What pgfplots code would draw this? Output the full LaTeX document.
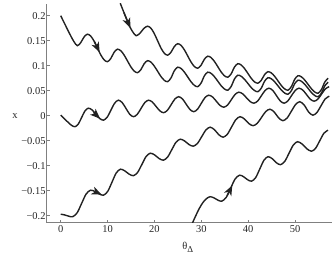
\documentclass[border=0pt]{standalone}
\usepackage{fontspec}
\setmainfont{Liberation Serif}
\usepackage{pgfplots}
\pgfplotsset{compat=1.18}
\usetikzlibrary{arrows.meta}
\definecolor{crv}{HTML}{222222}
\definecolor{axc}{HTML}{808080}
\pgfplotsset{
  trj/.style={crv, line width=1.4bp, smooth, mark=none},
  arr/.style={crv, line width=1.4bp, sharp plot, mark=none, -{Stealth[length=10bp,width=8bp,inset=2.8bp]}},
}
\begin{document}
\begin{tikzpicture}
\begin{axis}[
  scale only axis, width=284.9bp, height=218.7bp,
  xmin=-2.99, xmax=57.8, ymin=-0.214, ymax=0.2234,
  axis lines*=left,
  axis line style={axc, line width=0.6pt},
  tick style={axc, line width=0.5pt},
  tick align=inside, major tick length=3bp,
  xtick={0,10,20,30,40,50},
  xticklabels={0,10,20,30,40,50},
  ytick={-0.2,-0.15,-0.1,-0.05,0,0.05,0.1,0.15,0.2},
  yticklabels={−0.2,−0.15,−0.1,−0.05,0,0.05,0.1,0.15,0.2},
  ticklabel style={font=\fontsize{10.5}{12}\selectfont, text=black!85},
  yticklabel style={inner sep=1pt},
  xticklabel style={inner sep=1pt, yshift=-2bp},
  xlabel={θ\raisebox{-0.6ex}{\fontsize{9}{10}\selectfont Δ}},
  xlabel style={at={(axis description cs:0.495,-0.111)}, anchor=center, font=\fontsize{10.5}{12}\selectfont, text=black!85},
  ylabel={x},
  ylabel style={at={(axis description cs:-0.1115,0.489)}, anchor=center, rotate=-90, font=\fontsize{10.5}{12}\selectfont, text=black!85},
]
% Curve A
\addplot[trj] coordinates {(0,0.200) (0.71,0.1865) (1.42,0.173) (2.12,0.160) (2.83,0.148) (3.54,0.140)
 (4.25,0.1458) (4.97,0.1573) (5.68,0.163)
 (6.40,0.1593) (7.11,0.1493) (7.83,0.1355) (8.54,0.1218) (9.26,0.1117) (9.97,0.108)
 (10.68,0.1143) (11.39,0.1268) (12.10,0.133)
 (12.82,0.1299) (13.53,0.1213) (14.25,0.1095) (14.96,0.0978) (15.68,0.0892) (16.39,0.086)
 (17.10,0.092) (17.81,0.104) (18.52,0.110)
 (19.24,0.1072) (19.95,0.0995) (20.67,0.089) (21.38,0.0785) (22.10,0.0708) (22.81,0.068)
 (23.52,0.0753) (24.24,0.0898) (24.95,0.097)
 (25.67,0.0944) (26.38,0.0873) (27.10,0.0775) (27.81,0.0678) (28.53,0.0606) (29.24,0.058)
 (29.95,0.0653) (30.66,0.0798) (31.37,0.087)
 (32.09,0.0846) (32.80,0.078) (33.52,0.069) (34.23,0.060) (34.95,0.0534) (35.66,0.051)
 (36.37,0.0585) (37.08,0.0735) (37.79,0.081)
 (38.51,0.0788) (39.22,0.0728) (39.94,0.0645) (40.65,0.0563) (41.37,0.0502) (42.08,0.048)
 (42.79,0.055) (43.51,0.069) (44.22,0.076)
 (44.94,0.0738) (45.65,0.0678) (46.37,0.0595) (47.08,0.0513) (47.80,0.0452) (48.51,0.043)
 (49.22,0.050) (49.93,0.064) (50.64,0.071)
 (51.36,0.0688) (52.07,0.0628) (52.79,0.0545) (53.50,0.0463) (54.22,0.0402) (54.93,0.038)
 (55.64,0.0453) (56.36,0.0598) (57.07,0.067)};
% Curve B
\addplot[trj] coordinates {(12.70,0.225) (13.38,0.209) (14.06,0.193) (14.74,0.178) (15.42,0.167) (16.1,0.160)
 (16.91,0.1648) (17.71,0.1743) (18.52,0.179)
 (19.24,0.1751) (19.95,0.1645) (20.67,0.150) (21.38,0.1355) (22.10,0.1249) (22.81,0.121)
 (23.52,0.1268) (24.24,0.1383) (24.95,0.144)
 (25.67,0.1407) (26.38,0.1318) (27.10,0.1195) (27.81,0.1073) (28.53,0.0983) (29.24,0.095)
 (29.95,0.101) (30.66,0.113) (31.37,0.119)
 (32.09,0.1162) (32.80,0.1085) (33.52,0.098) (34.23,0.0875) (34.95,0.0798) (35.66,0.077)
 (36.37,0.0838) (37.08,0.0973) (37.79,0.104)
 (38.51,0.1014) (39.22,0.0943) (39.94,0.0845) (40.65,0.0748) (41.37,0.0676) (42.08,0.065)
 (42.79,0.0708) (43.51,0.0823) (44.22,0.088)
 (44.94,0.0855) (45.65,0.0788) (46.37,0.0695) (47.08,0.0603) (47.80,0.0535) (48.51,0.051)
 (49.22,0.0583) (49.93,0.0728) (50.64,0.080)
 (51.36,0.0777) (52.07,0.0713) (52.79,0.0625) (53.50,0.0538) (54.22,0.0473) (54.93,0.045)
 (55.64,0.0525) (56.36,0.0675) (57.07,0.075)};
% Curve C
\addplot[trj] coordinates {(0,0.001) (0.76,-0.0059) (1.53,-0.0128) (2.29,-0.0192) (3.05,-0.022)
 (3.76,-0.0166) (4.47,-0.0035) (5.18,0.0096) (5.89,0.015)
 (6.70,0.0115) (7.50,0.003) (8.31,-0.0055) (9.11,-0.009)
 (9.91,-0.0031) (10.71,0.011) (11.51,0.0251) (12.31,0.031)
 (13.12,0.0262) (13.93,0.0145) (14.73,0.0028) (15.54,-0.002)
 (16.34,0.0028) (17.14,0.0145) (17.94,0.0262) (18.74,0.031)
 (19.55,0.0273) (20.35,0.0185) (21.16,0.0097) (21.96,0.006)
 (22.76,0.0107) (23.56,0.022) (24.36,0.0333) (25.16,0.038)
 (25.97,0.0336) (26.77,0.023) (27.58,0.0124) (28.38,0.008)
 (29.18,0.0128) (29.98,0.0245) (30.78,0.0362) (31.58,0.041)
 (32.39,0.0375) (33.20,0.029) (34.00,0.0205) (34.81,0.017)
 (35.61,0.0214) (36.41,0.032) (37.21,0.0426) (38.01,0.047)
 (38.82,0.0438) (39.62,0.036) (40.43,0.0282) (41.23,0.025)
 (42.03,0.0294) (42.83,0.040) (43.63,0.0506) (44.43,0.055)
 (45.24,0.0506) (46.04,0.040) (46.85,0.0294) (47.65,0.025)
 (48.45,0.0294) (49.25,0.040) (50.05,0.0506) (50.85,0.055)
 (51.66,0.0512) (52.47,0.042) (53.27,0.0328) (54.08,0.029)
 (54.88,0.0332) (55.68,0.0435) (56.48,0.0538) (57.28,0.058)};
% Curve D
\addplot[trj] coordinates {(0,-0.197) (0.85,-0.1985) (1.71,-0.201) (2.56,-0.202)
 (3.51,-0.1942) (4.46,-0.1755) (5.41,-0.1568) (6.36,-0.149)
 (7.28,-0.1515) (8.21,-0.1565) (9.13,-0.159)
 (10.03,-0.1514) (10.94,-0.133) (11.84,-0.1146) (12.74,-0.107)
 (13.66,-0.1103) (14.59,-0.1168) (15.51,-0.120)
 (16.41,-0.1134) (17.32,-0.0975) (18.22,-0.0816) (19.12,-0.075)
 (20.05,-0.0785) (20.97,-0.0855) (21.90,-0.089)
 (22.80,-0.0829) (23.70,-0.068) (24.60,-0.0531) (25.50,-0.047)
 (26.43,-0.0505) (27.35,-0.0575) (28.28,-0.061)
 (29.18,-0.0554) (30.08,-0.042) (30.98,-0.0286) (31.88,-0.023)
 (32.81,-0.028) (33.73,-0.038) (34.66,-0.043)
 (35.56,-0.037) (36.46,-0.0225) (37.36,-0.008) (38.26,-0.002)
 (39.19,-0.0065) (40.11,-0.0155) (41.04,-0.020)
 (41.94,-0.0152) (42.84,-0.0035) (43.74,0.0082) (44.64,0.013)
 (45.57,0.0073) (46.49,-0.0043) (47.42,-0.010)
 (48.32,-0.0044) (49.22,0.009) (50.12,0.0224) (51.02,0.028)
 (51.95,0.0213) (52.87,0.0078) (53.80,0.001)
 (54.68,0.0066) (55.55,0.020) (56.43,0.0334) (57.30,0.039)};
% Curve E
\addplot[trj] coordinates {(28.0,-0.217) (28.77,-0.201) (29.54,-0.186) (30.32,-0.174) (31.09,-0.166) (31.86,-0.162)
 (32.69,-0.1643) (33.53,-0.1688) (34.36,-0.171)
 (35.31,-0.1634) (36.26,-0.145) (37.21,-0.1266) (38.16,-0.119)
 (39.01,-0.122) (39.87,-0.128) (40.72,-0.131)
 (41.60,-0.1238) (42.48,-0.1065) (43.36,-0.0892) (44.24,-0.082)
 (45.13,-0.086) (46.01,-0.094) (46.90,-0.098)
 (47.81,-0.0913) (48.72,-0.075) (49.63,-0.0587) (50.54,-0.052)
 (51.53,-0.0568) (52.53,-0.0663) (53.52,-0.071)
 (54.40,-0.0649) (55.28,-0.050) (56.16,-0.0351) (57.04,-0.029)};
% direction arrows
\addplot[arr] coordinates {(13.5,0.206) (14.85,0.1755)};
\addplot[arr] coordinates {(7.2,0.148) (8.3,0.127)};
\addplot[arr] coordinates {(7.0,0.0065) (8.4,-0.006)};
\addplot[arr] coordinates {(7.3,-0.1518) (8.75,-0.1578)};
\addplot[arr] coordinates {(35.5,-0.160) (36.6,-0.1395)};
\end{axis}
\pgfresetboundingbox
\path ([xshift=-46.7bp,yshift=-36.3bp]current axis.south west) rectangle ([xshift=1.4bp,yshift=4bp]current axis.north east);
\end{tikzpicture}
\end{document}
